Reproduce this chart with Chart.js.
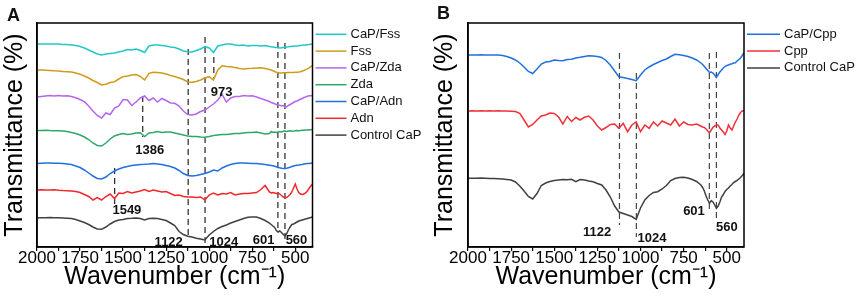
<!DOCTYPE html>
<html>
<head>
<meta charset="utf-8">
<script src="https://cdn.jsdelivr.net/npm/chart.js@4.4.0/dist/chart.umd.min.js"></script>
<style>
  body { margin: 0; background: #fff; }
  #wrap { position: relative; width: 858px; height: 305px; }
  canvas { position: absolute; top: 0; }
</style>
</head>
<body>
<div id="wrap">
  <canvas id="chartA" width="430" height="305" style="left:0"></canvas>
  <canvas id="chartB" width="428" height="305" style="left:430px"></canvas>
</div>
<script>
'use strict';

// wavenumber grid (cm-1) shared by every spectrum
var wavenumbers = [2000,1975,1950,1925,1900,1875,1850,1825,1800,1775,1750,1725,1700,1675,1650,1625,1600,1575,1550,1525,
  1500,1475,1450,1425,1400,1375,1350,1325,1300,1275,1250,1225,1200,1175,1150,1125,1100,1075,1050,1025,
  1000,975,950,925,900,875,850,825,800,775,750,725,700,675,
  650,640,630,620,610,600,590,580,570,560,550,540,530,520,510,500,490,480,470,460,450,440,430,420,410,400];

// panel A spectra (offset transmittance, arbitrary units)
var capFss = [203,203,203,203,203,203,202.5,202.5,202,201.5,200.5,199,197,195,193,192,193,193.5,194,195,
  196,197.5,197,198,196.5,194.5,201,202,202,201.5,201,200,199.5,198,196,195.3,195,196.5,198,200.5,
  199,194.5,201,202,203,203,202,201.5,202,201,201.5,201.5,201,201.5,
  200.5,200.2,200,199.7,199.5,199.3,199,199.2,199.5,199.7,200,200.2,200.5,200.7,200.8,201,201,201.2,201.5,201.7,202,202,202.3,202.5,202.8,203];
var fss = [177,177,176.8,176.5,176.2,176,175.5,175.3,175,174,172.7,171,169,166.5,164.5,162,162.7,164.5,165.3,168,
  170.3,171,172,172.5,170.5,167,173.7,174.7,174.5,174,173,171.5,170.5,169,167.5,165,164.7,165.5,167,169,
  170.3,167,177,181.3,180.5,180.3,179.5,178.5,178,178.5,178.7,179,179.3,178.5,
  177.5,177,176.3,175.5,174.8,174.3,174,174,174.2,174.3,174.3,174.4,174.5,174.5,174.6,174.7,174.8,175,175.3,176,176.5,177.3,178.2,179.2,180.3,181.3];
var capZda = [150,150.5,151,151.5,151,151.5,151,151.3,150.5,149.3,147.5,145.3,141,136,131.5,129,134,132.5,139,141,
  147.5,147,141.5,145,149,151,146.5,149,145,148.5,146.5,144,143.7,141,136,132.5,132,133,135.5,137,
  140,143,147,152.7,145,149,150.5,150.5,151.5,151,151.3,150,148.5,147,
  145.5,144.5,144,143.2,142.5,142,141.8,141,141.5,140,140.3,141.5,142.5,143.5,144.5,145.5,146,147,147.8,148.5,149.5,150,150.8,151.2,151.3,151.5];
var zda = [116.5,116.5,116.8,116.5,116.3,116.2,116,115.5,114.5,113.5,112,110,107.5,104,101.5,101,104,108,111,112.5,
  113.5,112.5,113,114,114.3,110.5,114,114.5,115.5,114.5,115,115,114,113,112,111,110.5,110.5,110,109.8,
  110.5,111.5,112,112.5,112.5,113,113.5,113.5,114,114.5,114.5,115,114,113,
  113.5,115.5,114.5,115,114.5,115,115.5,115,115.8,116,115.5,116,116.2,115.8,116,116.3,116.5,116.3,116.5,116.8,116.7,117,117,117.3,117.2,117.5];
var capAdn = [83.5,83.8,84,84,83.8,83.7,83.5,83,82.5,81,79.5,77,74,71,68.5,68,70,73.5,76,78,
  79.5,80.5,81.5,82,82.5,82.7,83,83.5,83,82.5,81.5,80.5,79,76.5,73.5,71.5,71,71.5,72.5,73.5,
  75,77,76,79,81,82.5,83.5,84,84,83.8,83.5,83.5,83,82.5,
  81.8,81.5,81.2,80.8,80.2,79.5,79.2,78.8,78.5,78.5,78.8,79.3,79.8,80.5,81,81.5,81.8,82,82.3,82.6,83,83.2,83.4,83.6,83.8,84];
var adn = [57,57.2,57,57,57.2,56.8,56.5,56.3,56,55.5,54.5,52.5,50.5,47,49.5,47,50.5,53,48.5,54,
  53.5,55.5,54,55,56,57.5,55.5,57,56,55,55.5,53.5,51.5,52,50.5,50,50,49.5,50,47,
  52,54,52,53.5,53,54.5,52,53,53.5,53.5,54,54.5,57.5,61.5,
  55,54,54.5,54,53.5,54,53,51.5,50,49.5,49.5,51,52.5,55,59,63,58,54.5,53,52.5,53,54,56,58.5,61,63];
var controlCapA = [29,29.3,29.3,29.5,29.3,29.2,29,28.8,28.5,27.5,26,24.5,22.5,20,18,17.7,20,23,25.5,27,
  27.5,28.5,28.7,29,28.5,27,28.5,28.7,28.5,27.5,26.5,24,21.5,15.5,12.5,10.8,10,8.8,8,7,
  12,15.5,18.5,20.5,22,24,25.5,27,28.5,29.7,30,30,28.5,26.5,
  24,22.5,21,19.5,16.5,15,16,14.5,12.5,11,13.5,17,20,22.5,23,24,25,26,26.5,27,27.5,28,28.5,29,29.5,30];

// panel B spectra
var capCpp = [192,192,192,192.2,192,192,192,192,191.5,190.5,189,187,184,180,175.5,173.5,178,183,185,185.5,
  187,186.5,186.3,187.5,187.7,189,189.7,190.5,191.3,191,190.5,189.5,186.5,182,176,170.3,169.5,168.5,167.5,166.3,
  172,177,180,182.5,184.5,186.5,188,190.5,192.7,192.3,191.5,190.5,189,187,
  184,182.5,180.5,178.5,176.5,174.5,175,174,172,169.7,172.5,175,177,179,180.5,181.5,182,182.7,183.3,184,184.3,186,187.5,189,191.5,194.3];
var cpp = [136,136.2,136,136.3,136,136.2,136,136.2,136,136,135.8,135.5,133.7,127,120,122.5,127,131,132,134,
  133.5,130,123,130.5,125.5,129.5,127,129.7,131,127,121,117,119.5,122.5,123,118.7,123.7,115.3,122,125,
  115.3,122,118.7,125,121,126,124,122,128,121,125,122.5,122,123,
  121,120,119.5,118,116,114.3,117,119.7,121,122,122,119,117,115,112.5,116,122,119,117,121,125,128,132,134.5,136,136.3];
var controlCapB = [68.7,68.8,68.7,68.9,68.7,68.5,68.5,68.3,68,67.5,67,65,61,56,50.5,48,53.5,61.5,64,65.5,
  66.5,67,67.5,67.3,67.7,65.3,67.5,67,66,65.3,63.5,62,57,50,41,35,33.5,32,30.5,27.7,
  39,47,51.5,54.5,55.3,58,61.5,66.5,68.5,69.5,69.7,69,67.5,65.5,
  62,59.5,56,51,47,43.7,46.3,45,42,38.7,41,45,50,52.5,55.5,57.5,59,61,62.5,64.5,65.5,66.5,68,69.5,71.5,73.7];

var tickValues = [2000,1875,1750,1625,1500,1375,1250,1125,1000,875,750,625,500];

// dashed peak markers: [wavenumber, top, bottom]
var markersA = [[1122,198,9],[1024,210,4],[973,190,169],[601,205,15],[560,204,8],[1386,151,110],[1549,79,42]];
var markersB = [[1122,194,22],[1024,174,10],[601,194,35],[560,195,27]];
// peak labels: [text, wavenumber, height]
var labelsA = [['1386',1345,97],['973',928,155],['1549',1478,37],['1122',1235,5],['1024',916,5],['601',684,7],['560',493,7]];
var labelsB = [['1122',1252,15],['1024',933,9],['601',690,36],['560',499,20]];

var FONT = "'Liberation Sans', Arial, Helvetica, sans-serif";

function series(label, values, color) {
  return {
    label: label,
    data: wavenumbers.map(function(w, i) { return { x: w, y: values[i] }; }),
    borderColor: color,
    borderWidth: 1.5,
    pointRadius: 0,
    tension: 0,
    fill: false
  };
}

function markerSets(markers, color) {
  return markers.map(function(m) {
    return {
      label: '',
      isMarker: true,
      data: [{ x: m[0], y: m[1] }, { x: m[0], y: m[2] }],
      borderColor: color,
      borderWidth: 1.2,
      borderDash: [6, 4],
      pointRadius: 0
    };
  });
}

// frame, panel letter, peak labels and legend
function decorations(cfg) {
  return {
    id: 'decorations',
    afterDraw: function(chart) {
      var ctx = chart.ctx, area = chart.chartArea;
      var xs = chart.scales.x, ys = chart.scales.y;
      ctx.save();
      ctx.strokeStyle = '#000';
      ctx.lineWidth = 1.5;
      ctx.strokeRect(area.left, area.top, area.right - area.left, area.bottom - area.top);

      ctx.fillStyle = '#111';
      ctx.font = 'bold 13px ' + FONT;
      ctx.textAlign = 'center';
      ctx.textBaseline = 'middle';
      cfg.labels.forEach(function(l) {
        ctx.fillText(l[0], xs.getPixelForValue(l[1]), ys.getPixelForValue(l[2]));
      });

      ctx.font = 'bold 18px ' + FONT;
      ctx.textAlign = 'left';
      ctx.textBaseline = 'top';
      ctx.fillText(cfg.letter, 7, cfg.letterTop);

      ctx.font = '13px ' + FONT;
      ctx.textBaseline = 'middle';
      var y = 34.3;
      chart.data.datasets.forEach(function(ds) {
        if (ds.isMarker) return;
        ctx.strokeStyle = ds.borderColor;
        ctx.lineWidth = 1.5;
        ctx.beginPath();
        ctx.moveTo(area.right + 3, y);
        ctx.lineTo(area.right + 3 + cfg.legendLine, y);
        ctx.stroke();
        ctx.fillText(ds.label, area.right + cfg.legendLine + 7, y);
        y += 16.8;
      });
      ctx.restore();
    }
  };
}

function makeChart(id, datasets, cfg) {
  return new Chart(document.getElementById(id), {
    type: 'line',
    data: { datasets: datasets },
    plugins: [decorations(cfg)],
    options: {
      responsive: false,
      animation: false,
      devicePixelRatio: 1,
      layout: { padding: { top: 23, right: cfg.padRight, left: 0, bottom: 0 } },
      plugins: { legend: { display: false }, tooltip: { enabled: false } },
      scales: {
        x: {
          type: 'linear',
          reverse: true,
          min: 400,
          max: 2000,
          afterBuildTicks: function(s) { s.ticks = tickValues.map(function(v) { return { value: v }; }); },
          afterFit: function(s) { s.height = 58; },
          ticks: {
            autoSkip: false,
            maxRotation: 0,
            padding: -3,
            color: '#000',
            font: { size: 17, family: FONT },
            callback: function(v) { return v % 250 === 0 ? String(v) : ''; }
          },
          grid: { display: true, drawOnChartArea: false, tickLength: 4, color: '#000', lineWidth: 1.2 },
          border: { display: true, color: '#000', width: 1.5 },
          title: {
            display: true,
            text: 'Wavenumber (cm\u207B\u00B9)',
            color: '#000',
            font: { size: 25, family: FONT },
            padding: { top: 0, bottom: 13 }
          }
        },
        y: {
          type: 'linear',
          min: 0,
          max: 224,
          afterFit: function(s) { s.width = cfg.yWidth; },
          ticks: { display: false },
          grid: { display: false },
          border: { display: true, color: '#000', width: 1.5 },
          title: {
            display: true,
            text: 'Transmittance (%)',
            color: '#000',
            font: { size: 25, family: FONT },
            padding: 0
          }
        }
      }
    }
  });
}

makeChart('chartA', [
  series('CaP/Fss', capFss, '#22c7c9'),
  series('Fss', fss, '#d09b1c'),
  series('CaP/Zda', capZda, '#b366f0'),
  series('Zda', zda, '#2ea86a'),
  series('CaP/Adn', capAdn, '#2070e0'),
  series('Adn', adn, '#f0282c'),
  series('Control CaP', controlCapA, '#404040')
].concat(markerSets(markersA, '#222')), {
  letter: 'A', letterTop: 7, labels: labelsA, legendLine: 31, padRight: 117.5, yWidth: 37
});

makeChart('chartB', [
  series('CaP/Cpp', capCpp, '#2070e0'),
  series('Cpp', cpp, '#f0303a'),
  series('Control CaP', controlCapB, '#404040')
].concat(markerSets(markersB, '#444')), {
  letter: 'B', letterTop: 5, labels: labelsB, legendLine: 33, padRight: 114, yWidth: 38
});
</script>
</body>
</html>
